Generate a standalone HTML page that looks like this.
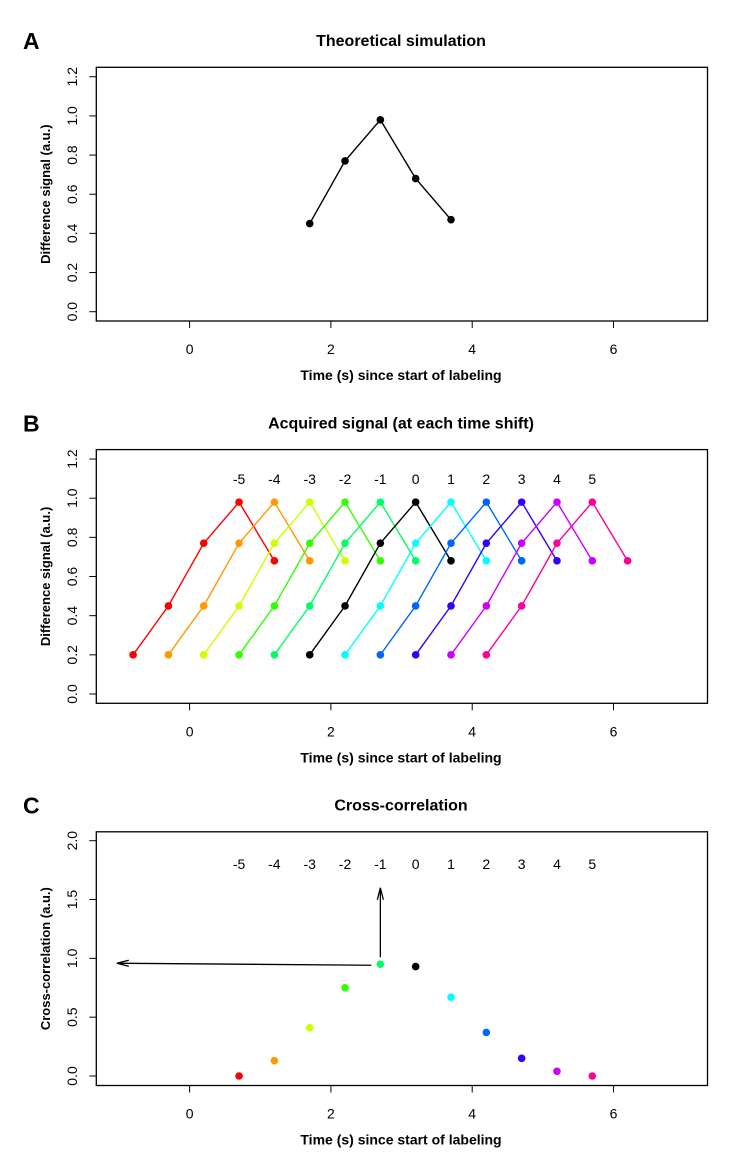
<!DOCTYPE html>
<html><head><meta charset="utf-8"><style>
html,body{margin:0;padding:0;background:#fff}
svg{display:block}
text{font-family:"Liberation Sans Narrow","Liberation Sans",sans-serif;fill:#000}
.b{font-family:"Liberation Sans",sans-serif;font-weight:bold}
</style></head><body>
<svg id="fig" width="745" height="1166" viewBox="0 0 745 1166" xmlns="http://www.w3.org/2000/svg"></svg>
<script>
// ---- data ----
const baseTimes = [1.7, 2.2, 2.7, 3.2, 3.7];
const theoretical = [0.45, 0.77, 0.98, 0.68, 0.47];
const acquired = [0.2, 0.45, 0.77, 0.98, 0.68];
const shifts = [-5, -4, -3, -2, -1, 0, 1, 2, 3, 4, 5];
const shiftColors = ["#FF0000","#FF9900","#CCFF00","#33FF00","#00FF66","#000000","#00FFFF","#0066FF","#3300FF","#CC00FF","#FF0099"];
const crossCorr = [0.0, 0.13, 0.41, 0.75, 0.95, 0.93, 0.67, 0.37, 0.15, 0.04, 0.0];
const xTicks = [0, 2, 4, 6];
const yTicksAB = [0, 0.2, 0.4, 0.6, 0.8, 1.0, 1.2];
const yTicksC = [0, 0.5, 1.0, 1.5, 2.0];
const shiftStep = 0.5;
const peakIndex = 3;

const NS = "http://www.w3.org/2000/svg";
const svg = document.getElementById("fig");
function el(tag, attrs, parent, txt) {
  const e = document.createElementNS(NS, tag);
  for (const k in attrs) e.setAttribute(k, attrs[k]);
  if (txt !== undefined) e.textContent = txt;
  (parent || svg).appendChild(e);
  return e;
}
const L = 96.3, R = 707.5;
function xs(v) { return 189.6 + v * 70.65; }

function panel(off, letter, title, ylab, yTicks, y0, yunit) {
  const g = el("g", {});
  
  
  const top = 67.3 + off, bot = 321 + off;
  const lt = el("text", {x: 23, y: 49 + off, "font-size": 23, class: "b"}, g, letter);
  
  
  const tt = el("text", {x: 401, y: 46 + off, "font-size": 16, class: "b", "text-anchor": "middle"}, g, title);
  
  
  const box = el("rect", {x: L, y: top, width: R - L, height: bot - top, fill: "none", stroke: "#000", "stroke-width": 1.3}, g);
  
  
  const ys = v => y0 + off - v * yunit;
  xTicks.forEach(t => {
    const tk = el("line", {x1: xs(t), x2: xs(t), y1: bot, y2: bot + 7, stroke: "#000", "stroke-width": 1}, g);
    
    
    const tl = el("text", {x: xs(t), y: bot + 33, "font-size": 14, "text-anchor": "middle"}, g, String(t));
    
    
  });
  yTicks.forEach(t => {
    const y = ys(t);
    const tk = el("line", {x1: L, x2: L - 7, y1: y, y2: y, stroke: "#000", "stroke-width": 1}, g);
    
    
    const tl = el("text", {x: 77, y: y, "font-size": 14, "text-anchor": "middle", transform: "rotate(-90 77 " + y + ")", style: "font-family:'Liberation Sans',sans-serif"}, g, t.toFixed(1));
    
    
  });
  const cy = (top + bot) / 2;
  const yl = el("text", {x: 50, y: cy, "font-size": 13, class: "b", "text-anchor": "middle", transform: "rotate(-90 50 " + cy + ")"}, g, ylab);
  
  
  const xl = el("text", {x: 401, y: 380 + off, "font-size": 14, class: "b", "text-anchor": "middle"}, g, "Time (s) since start of labeling");
  
  
  return {g, ys};
}

// Panel A
(function(){
  const p = panel(0, "A", "Theoretical simulation", "Difference signal (a.u.)", yTicksAB, 311.7, 195.8);
  const pts = baseTimes.map((t, i) => xs(t) + "," + p.ys(theoretical[i])).join(" ");
  const ln = el("polyline", {points: pts, fill: "none", stroke: "#000", "stroke-width": 1.4}, p.g);
  
  
  baseTimes.forEach((t, i) => {
    const c = el("circle", {cx: xs(t), cy: p.ys(theoretical[i]), r: 3.8, fill: "#000"}, p.g);
    
    
  });
})();

// Panel B
(function(){
  const p = panel(382.3, "B", "Acquired signal (at each time shift)", "Difference signal (a.u.)", yTicksAB, 311.7, 195.8);
  shifts.forEach((s, k) => {
    const col = shiftColors[k];
    const pts = baseTimes.map((t, i) => xs(t + s * shiftStep) + "," + p.ys(acquired[i])).join(" ");
    const ln = el("polyline", {points: pts, fill: "none", stroke: col, "stroke-width": 1.4}, p.g);
    
    
    baseTimes.forEach((t, i) => {
      const c = el("circle", {cx: xs(t + s * shiftStep), cy: p.ys(acquired[i]), r: 3.8, fill: col}, p.g);
      
      
    });
    const lb = el("text", {x: xs(baseTimes[peakIndex] + s * shiftStep), y: 484, "font-size": 14, "text-anchor": "middle"}, p.g, String(s));
    
    
  });
})();

// Panel C
(function(){
  const p = panel(764.5, "C", "Cross-correlation", "Cross-correlation (a.u.)", yTicksC, 311.5, 117.65);
  shifts.forEach((s, k) => {
    const cx = xs(baseTimes[peakIndex] + s * shiftStep);
    const c = el("circle", {cx: cx, cy: p.ys(crossCorr[k]), r: 3.8, fill: shiftColors[k]}, p.g);
    
    
    const lb = el("text", {x: cx, y: 869, "font-size": 14, "text-anchor": "middle"}, p.g, String(s));
    
    
  });
  let mi = 0; crossCorr.forEach((v, i) => { if (v > crossCorr[mi]) mi = i; });
  const mx = xs(baseTimes[peakIndex] + shifts[mi] * shiftStep), my = p.ys(crossCorr[mi]);
  const a1 = el("line", {x1: mx, y1: my - 7, x2: mx, y2: p.ys(1.58), stroke: "#000", "stroke-width": 1.3}, p.g);
  
  
  const hy = p.ys(1.6);
  const h1 = el("path", {d: `M${mx},${hy} L${mx-3},${hy+12} M${mx},${hy} L${mx+3},${hy+12}`, stroke: "#000", "stroke-width": 1.3, fill: "none"}, p.g);
  
  
  const ax = xs(-1.03);
  const a2 = el("line", {x1: mx - 9, y1: my + 1, x2: ax, y2: my - 1, stroke: "#000", "stroke-width": 1.3}, p.g);
  
  
  const h2 = el("path", {d: `M${ax},${my-1} L${ax+12},${my-4} M${ax},${my-1} L${ax+12},${my+2}`, stroke: "#000", "stroke-width": 1.3, fill: "none"}, p.g);
  
  
})();
</script>
</body></html>
